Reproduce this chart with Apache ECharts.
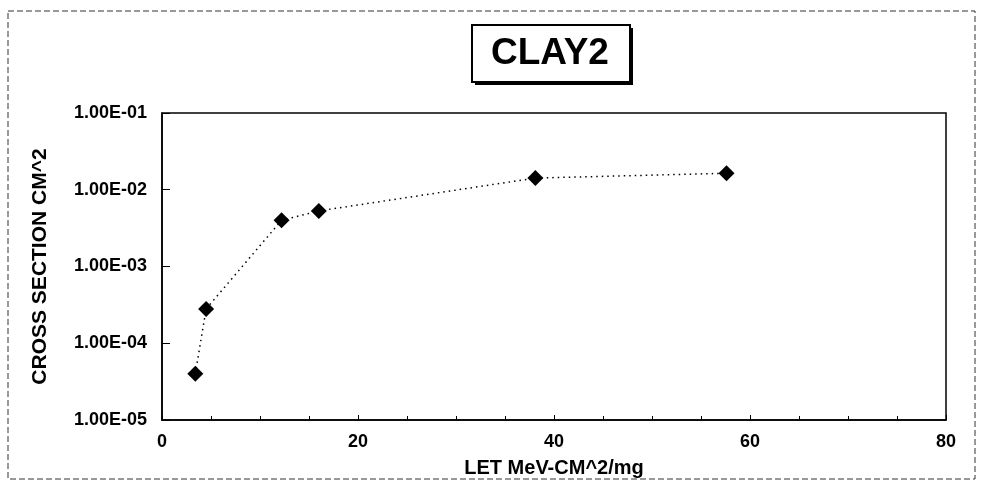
<!DOCTYPE html>
<html>
<head>
<meta charset="utf-8">
<script src="https://cdn.jsdelivr.net/npm/echarts@6/dist/echarts.min.js"></script>
<style>
  html, body { margin: 0; padding: 0; background: #fff; }
  #chart { width: 981px; height: 490px; }
</style>
</head>
<body>
<div id="chart"></div>
<script>
// LET values (MeV-cm^2/mg) and measured cross sections (cm^2)
const letValues = [3.4, 4.5, 12.2, 16.0, 38.1, 57.6];
const crossSection = [4.0e-5, 2.8e-4, 4.0e-3, 5.3e-3, 1.42e-2, 1.64e-2];
const yTickLabels = ['1.00E-05', '1.00E-04', '1.00E-03', '1.00E-02', '1.00E-01'];
const xTickLabels = [0, 20, 40, 60, 80];

const font = 'Liberation Sans, Arial, sans-serif';
const chart = echarts.init(document.getElementById('chart'));

chart.setOption({
    backgroundColor: '#fff',
    animation: false,
    graphic: [
        // faint dashed frame round the whole figure
        {
            type: 'rect', silent: true,
            shape: { x: 8, y: 11, width: 967, height: 468 },
            style: { fill: 'none', stroke: '#333', lineWidth: 1, lineDash: [6, 3] }
        },
        // title box with drop shadow
        {
            type: 'rect', silent: true, z: 10,
            shape: { x: 475, y: 28, width: 158, height: 57 },
            style: { fill: '#000' }
        },
        {
            type: 'rect', silent: true, z: 11,
            shape: { x: 472, y: 25, width: 158, height: 57 },
            style: { fill: '#fff', stroke: '#000', lineWidth: 2 }
        },
        {
            type: 'text', silent: true, z: 12,
            x: 550, y: 54,
            style: {
                text: 'CLAY2', fill: '#000',
                font: 'bold 37px ' + font,
                textAlign: 'center', textVerticalAlign: 'middle'
            }
        }
    ],
    grid: {
        left: 162, top: 113, right: 35, bottom: 70,
        show: true, borderColor: '#000', borderWidth: 1.5
    },
    xAxis: {
        type: 'value', min: 0, max: 80, interval: 20,
        name: 'LET MeV-CM^2/mg', nameLocation: 'middle', nameGap: 38,
        nameTextStyle: { fontFamily: font, fontSize: 20, fontWeight: 'bold', color: '#000' },
        axisLine: { show: true, lineStyle: { color: '#000', width: 1.5 } },
        axisTick: { show: true, inside: true, length: 5, lineStyle: { color: '#000' } },
        minorTick: { show: true, splitNumber: 4, length: 4, lineStyle: { color: '#000' } },
        splitLine: { show: false },
        axisLabel: {
            fontFamily: font, fontSize: 18, fontWeight: 'bold', color: '#000', margin: 13,
            formatter: v => xTickLabels.includes(v) ? String(v) : ''
        }
    },
    yAxis: {
        type: 'log', logBase: 10, min: 1e-5, max: 1e-1,
        name: 'CROSS SECTION CM^2', nameLocation: 'middle', nameGap: 111, nameRotate: 90,
        nameTextStyle: { fontFamily: font, fontSize: 21, fontWeight: 'bold', color: '#000' },
        axisLine: { show: true, lineStyle: { color: '#000', width: 1.5 } },
        axisTick: { show: true, inside: true, length: 8, lineStyle: { color: '#000' } },
        splitLine: { show: false },
        axisLabel: {
            fontFamily: font, fontSize: 18, fontWeight: 'bold', color: '#000', margin: 15,
            formatter: v => yTickLabels[Math.round(Math.log10(v)) + 5]
        }
    },
    series: [
        {
            type: 'line',
            data: letValues.map((x, i) => [x, crossSection[i]]),
            symbol: 'diamond', symbolSize: 16,
            itemStyle: { color: '#000' },
            lineStyle: { color: '#000', width: 1.5, type: [1.5, 4] },
            z: 3
        }
    ]
});
</script>
</body>
</html>
